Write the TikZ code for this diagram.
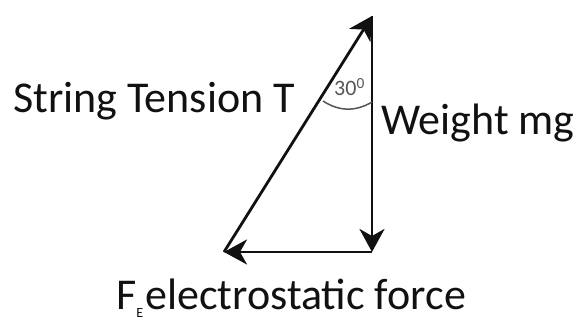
\documentclass[tikz,border=0pt]{standalone}
\usepackage{fontspec}
\setmainfont{Carlito}
\usetikzlibrary{arrows.meta}
\definecolor{forceBlack}{HTML}{111111}
\definecolor{angleGrey}{HTML}{555555}

\begin{document}
\begin{tikzpicture}[x=1pt, y=-1pt,
    vec/.style={line width=2.8pt, forceBlack, -{Stealth[length=23pt, width=25pt, inset=7pt]}},
    lbl/.style={anchor=base west, inner sep=0pt, text=forceBlack, font=\fontsize{44}{48}\selectfont}]
    \useasboundingbox (0,0) rectangle (578,320);
    % corners of the force triangle
    \coordinate (top) at (372,16);
    \coordinate (bot) at (372,252);
    \coordinate (lft) at (224,252);
    \draw[vec] (lft) -- (top);
    \draw[vec] (top) -- (bot);
    \draw[vec] (bot) -- (lft);
    % angle mark
    \coordinate (a1) at (323,101);
    \coordinate (a2) at (372,102);
    \draw[angleGrey, line width=1.5pt] (a1) to[bend right=32] (a2);
    \node[anchor=base west, inner sep=0pt, text=angleGrey, font=\fontsize{22}{24}\selectfont] (ang) at (334,96) {30\textsuperscript{0}};
    % labels
    \node[lbl] (tension) at (13,113) {String Tension T};
    \node[lbl] (weight) at (381,135) {Weight mg};
    \node[lbl] (fe) at (116,309) {F\raisebox{-8pt}{\fontsize{14}{14}\selectfont E}\hspace{2pt}electrostatic force};
\end{tikzpicture}
\end{document}
